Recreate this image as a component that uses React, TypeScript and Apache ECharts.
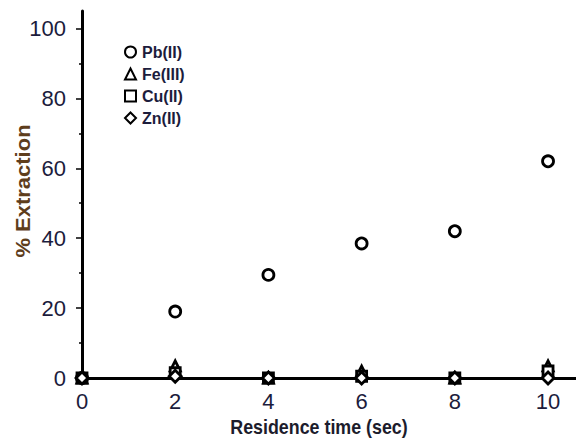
import React, { useEffect, useRef } from "react";
import * as echarts from "echarts";

const times = [0, 2, 4, 6, 8, 10];
const pb = [0, 19, 29.5, 38.5, 42, 62];
const fe = [0, 3.5, 0, 2, 0, 3.5];
const cu = [0, 1.5, 0, 0.5, 0, 2];
const zn = [0, 0.5, 0, 0, 0, 0];
const yLabels = [0, 20, 40, 60, 80, 100];
const yMinor = [10, 30, 50, 70, 90];
const xLabels = [0, 2, 4, 6, 8, 10];

const FONT = "'Liberation Sans', Arial, sans-serif";

export default function App() {
  const ref = useRef<HTMLDivElement>(null);
  useEffect(() => {
    if (!ref.current) return;
    const chart = echarts.init(ref.current, null, { renderer: "svg" });
    const pts = (v: number[]) => times.map((t, i) => [t, v[i]]);
    const mk = (name: string, symbol: string, data: number[], z: number, size: number) => ({
      name,
      type: "scatter",
      symbol,
      symbolSize: size,
      data: pts(data),
      z,
      itemStyle: { color: "#ffffff", borderColor: "#000000", borderWidth: 2.8, opacity: 1 },
    });
    chart.setOption({
      animation: false,
      backgroundColor: "#ffffff",
      grid: { left: 82, right: 0, top: 11, bottom: 61 },
      legend: {
        orient: "vertical",
        left: 119,
        top: 39,
        itemGap: 6,
        itemWidth: 11,
        itemHeight: 11,
        textStyle: {
          fontFamily: FONT,
          fontWeight: "bold",
          fontSize: 16,
          color: "#1c1c3c",
          padding: [0, 0, 0, 1],
        },
        data: ["Pb(II)", "Fe(III)", "Cu(II)", "Zn(II)"],
      },
      xAxis: {
        type: "value",
        min: 0,
        max: 10.6,
        interval: 2,
        splitLine: { show: false },
        axisLine: { show: true, onZero: false, lineStyle: { color: "#000", width: 3 } },
        axisTick: { show: false },
        axisLabel: {
          customValues: xLabels,
          fontFamily: FONT,
          fontSize: 22,
          color: "#1c1c3c",
          margin: 12,
        },
      },
      yAxis: [
        {
          type: "value",
          min: 0,
          max: 105,
          interval: 20,
          splitLine: { show: false },
          axisLine: { show: true, onZero: false, lineStyle: { color: "#000", width: 3 } },
          axisTick: { show: true, customValues: yLabels, length: 6, lineStyle: { color: "#000", width: 1.5 } },
          axisLabel: {
            customValues: yLabels,
            fontFamily: FONT,
            fontSize: 22,
            color: "#1c1c3c",
            margin: 16,
          },
        },
        {
          type: "value",
          position: "left",
          min: 0,
          max: 105,
          interval: 10,
          splitLine: { show: false },
          axisLine: { show: false },
          axisTick: { show: true, customValues: yMinor, length: 3, lineStyle: { color: "#000", width: 1.5 } },
          axisLabel: { show: false },
        },
      ],
      graphic: [
        {
          type: "text",
          x: 23,
          y: 191,
          rotation: Math.PI / 2,
          scaleY: 0.9,
          style: {
            text: "% Extraction",
            fontFamily: FONT,
            fontWeight: "bold",
            fontSize: 22,
            fill: "#5e3d1c",
            align: "center",
            verticalAlign: "middle",
          },
        },
        {
          type: "text",
          x: 319,
          y: 426,
          scaleX: 0.85,
          style: {
            text: "Residence time (sec)",
            fontFamily: FONT,
            fontWeight: "bold",
            fontSize: 21,
            fill: "#1c1c2c",
            align: "center",
            verticalAlign: "middle",
          },
        },
      ],
      series: [
        mk("Pb(II)", "circle", pb, 4, 11),
        mk("Fe(III)", "triangle", fe, 5, 10),
        mk("Cu(II)", "rect", cu, 6, 10),
        mk("Zn(II)", "diamond", zn, 7, 12),
      ],
    });
    return () => chart.dispose();
  }, []);
  return <div ref={ref} style={{ width: 576, height: 439, position: "absolute", left: 0, top: 0 }} />;
}
